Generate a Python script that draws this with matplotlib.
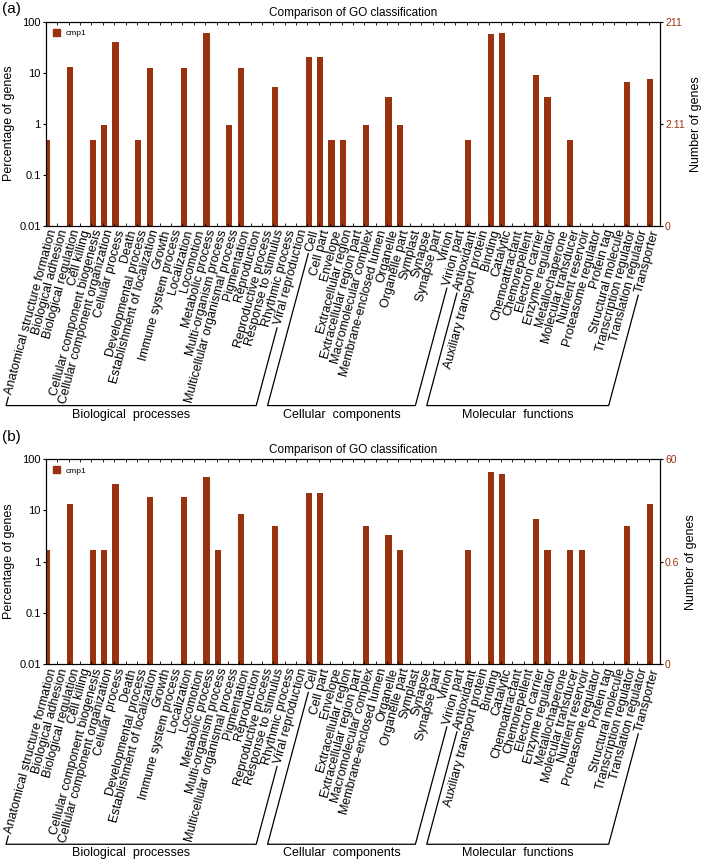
import numpy as np
import matplotlib
matplotlib.use('Agg')
import matplotlib.pyplot as plt
from matplotlib.patches import Patch
from matplotlib.lines import Line2D
from matplotlib.ticker import NullLocator

plt.rcParams['font.family'] = ['Liberation Sans', 'DejaVu Sans']

# GO terms, by group
bio_terms = ['Anatomical structure formation', 'Biological adhesion', 'Biological regulation',
             'Cell killing', 'Cellular component biogenesis', 'Cellular component organization',
             'Cellular process', 'Death', 'Developmental process', 'Establishment of localization',
             'Growth', 'Immune system process', 'Localization', 'Locomotion', 'Metabolic process',
             'Multi-organism process', 'Multicellular organismal process', 'Pigmentation',
             'Reproduction', 'Reproductive process', 'Response to stimulus', 'Rhythmic process',
             'Viral reproduction']
cel_terms = ['Cell', 'Cell part', 'Envelope', 'Extracellular region', 'Extracellular region part',
             'Macromolecular complex', 'Membrane-enclosed lumen', 'Organelle', 'Organelle part',
             'Symplast', 'Synapse', 'Synapse part', 'Virion', 'Virion part']
mol_terms = ['Antioxidant', 'Auxiliary transport protein', 'Binding', 'Catalytic', 'Chemoattractant',
             'Chemorepellent', 'Electron carrier', 'Enzyme regulator', 'Metallochaperone',
             'Molecular transducer', 'Nutrient reservoir', 'Proteasome regulator', 'Protein tag',
             'Structural molecule', 'Transcription regulator', 'Translation regulator', 'Transporter']
group_names = ['Biological  processes', 'Cellular  components', 'Molecular  functions']

# percentage of genes (0 = no gene annotated)
pct_a = [0.47, 0, 12.8, 0, 0.47, 0.95, 40.3, 0, 0.47, 12.3, 0, 0, 12.3, 0, 59.2, 0, 0.95, 12.3,
         0, 0, 5.21, 0, 0,
         20.4, 20.4, 0.47, 0.47, 0, 0.95, 0, 3.32, 0.95, 0, 0, 0, 0, 0,
         0.47, 0, 56.4, 58.8, 0, 0, 9.0, 3.32, 0, 0.47, 0, 0, 0, 0, 6.64, 0, 7.58]
pct_b = [1.67, 0, 13.3, 0, 1.67, 1.67, 33.3, 0, 0, 18.3, 0, 0, 18.3, 0, 45.0, 1.67, 0, 8.33,
         0, 0, 5.0, 0, 0,
         21.7, 21.7, 0, 0, 0, 5.0, 0, 3.33, 1.67, 0, 0, 0, 0, 0,
         1.67, 0, 56.7, 50.0, 0, 0, 6.67, 1.67, 0, 1.67, 1.67, 0, 0, 0, 5.0, 0, 13.3]

left_ticks = [0.01, 0.1, 1, 10, 100]
left_labels = ['0.01', '0.1', '1', '10', '100']
right_ticks = [0.01, 1, 100]
right_labels_a = ['0', '2.11', '211']
right_labels_b = ['0', '0.6', '60']

bar_color = '#99330f'
terms = bio_terms + cel_terms + mol_terms
sizes = [len(bio_terms), len(cel_terms), len(mol_terms)]
angle = 75


def draw_panel(ax, pct, right_labels):
    x = np.arange(len(terms))
    vals = np.array(pct, dtype=float)
    has = vals > 0
    ax.bar(x[has] + 0.12, vals[has] - 0.01, width=0.55, bottom=0.01, color=bar_color)
    ax.set_yscale('log')
    ax.set_ylim(0.01, 100)
    ax.set_xlim(0, len(terms))
    ax.set_xticks(x + 0.12, terms, rotation=angle, ha='right', va='top',
                  rotation_mode='anchor', fontsize=9)
    ax.tick_params(axis='x', which='major', length=0, pad=2)
    ax.set_xticks(np.arange(1, len(terms)), minor=True)
    ax.tick_params(axis='x', which='minor', direction='in', length=2.5, top=True, bottom=True)
    ax.set_yticks(left_ticks, left_labels)
    ax.yaxis.set_minor_locator(NullLocator())
    ax.tick_params(axis='y', which='major', direction='out', length=2.2, labelsize=8, pad=1.5)
    ax.set_ylabel('Percentage of genes', fontsize=9, labelpad=3)
    ax.set_title('Comparison of GO classification', fontsize=8.5, pad=4)
    for sp in ax.spines.values():
        sp.set_linewidth(0.8)
    ax.legend(handles=[Patch(color=bar_color, label='cmp1')], loc='upper left', frameon=False,
              fontsize=6, handlelength=0.8, handleheight=0.8, handletextpad=0.6,
              borderaxespad=0.6, borderpad=0.3)

    ax2 = ax.twinx()
    ax2.set_yscale('log')
    ax2.set_ylim(0.01, 100)
    ax2.set_yticks(right_ticks, right_labels)
    ax2.yaxis.set_minor_locator(NullLocator())
    ax2.tick_params(axis='y', which='major', direction='out', length=2.2, labelsize=7.5,
                    pad=1.5, labelcolor=bar_color)
    ax2.set_ylabel('Number of genes', fontsize=9, labelpad=4)
    for sp in ax2.spines.values():
        sp.set_linewidth(0.8)


def draw_brackets(fig, ax, renderer):
    c, s = np.cos(np.radians(angle)), np.sin(np.radians(angle))
    labels = ax.get_xticklabels()
    ybar = ax.get_window_extent(renderer).y0 - 180
    inv = fig.transFigure.inverted()
    start = 0
    for name, n in zip(group_names, sizes):
        ends = []
        for lab in (labels[start], labels[start + n - 1]):
            bb = lab.get_window_extent(renderer)
            h = (bb.width * s - bb.height * c) / (s * s - c * c)
            px, py = bb.x0 + h * s / 2 - 3 * c, bb.y0 + h * c / 2 - 3 * s
            t = (py - ybar) / s
            ends.append(((px, py), (px - t * c, ybar)))
        (a_top, a_bot), (b_top, b_bot) = ends
        xy = inv.transform([a_top, a_bot, b_bot, b_top])
        fig.add_artist(Line2D(xy[:, 0], xy[:, 1], color='black', lw=0.9))
        mid = inv.transform([((a_bot[0] + b_bot[0]) / 2, ybar - 3)])[0]
        fig.text(mid[0], mid[1], name, ha='center', va='top', fontsize=9)
        start += n


fig = plt.figure(figsize=(7.02, 8.61), dpi=100)
ax_a = fig.add_axes([0.0655, 0.7380, 0.8746, 0.2368])
ax_b = fig.add_axes([0.0655, 0.2285, 0.8746, 0.2384])
draw_panel(ax_a, pct_a, right_labels_a)
draw_panel(ax_b, pct_b, right_labels_b)
fig.text(0.003, 0.998, '(a)', fontsize=11, va='top')
fig.text(0.003, 0.501, '(b)', fontsize=11, va='top')

fig.canvas.draw()
renderer = fig.canvas.get_renderer()
draw_brackets(fig, ax_a, renderer)
draw_brackets(fig, ax_b, renderer)

fig.savefig('out.png', dpi=100)
